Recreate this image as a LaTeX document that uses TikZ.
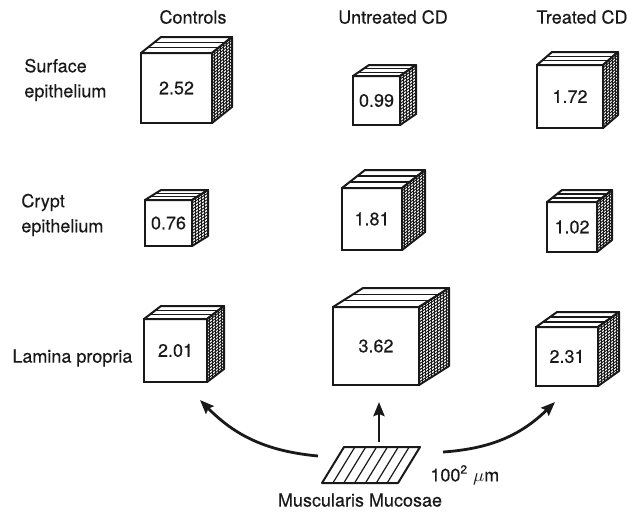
\documentclass[tikz,border=0pt]{standalone}
\usepackage{fontspec}
\setmainfont{TeX Gyre Heros}[FakeBold=0.35]
\usepackage{tikz}
\usetikzlibrary{
  arrows.meta,
  positioning
}
\definecolor{inkcolor}{RGB}{25, 25, 25}
\newcommand{\labelfont}{\fontsize{9}{12.5}\selectfont}
\tikzset{
frontface/.style={
  draw=inkcolor,
  line width=1pt,
  fill=white,
  inner sep=0pt,
  outer sep=0pt,
  font=\labelfont,
  text=inkcolor
},
faceline/.style={
  draw=inkcolor,
  line width=1pt,
  line join=round
},
stripeline/.style={
  draw=inkcolor,
  line width=0.6pt
},
gridline/.style={
  draw=inkcolor,
  line width=0.5pt
},
rowlabel/.style={
  font=\labelfont,
  text=inkcolor,
  align=left,
  anchor=west,
  inner sep=0pt
},
collabel/.style={
  font=\labelfont,
  text=inkcolor,
  inner sep=0pt
},
arrow/.style={
  -{Stealth[length=7pt,width=5.5pt,inset=1pt]},
  line width=1.4pt,
  draw=inkcolor
}
}

% cube: name, centre x, bottom y, width, height, depth x, depth y, value
\newcommand{\volcube}[8]{%
  \node[frontface, minimum width=#4*0.5pt, minimum height=#5*0.5pt, anchor=south] (#1) at (#2,#3) {#8};
  \pgfmathtruncatemacro{\lastcol}{round(#6/3)-1}
  \pgfmathtruncatemacro{\lastrow}{round(#5/3)-1}
  \pgfmathsetmacro{\colstep}{#6/(\lastcol+1)}
  \pgfmathsetmacro{\rowstep}{#5/(\lastrow+1)}
  % hatched side
  \foreach \k in {1,...,\lastcol}
    \draw[gridline] ([shift={(\k*\colstep,-\k*\colstep*#7/#6)}]#1.north east) -- ++(0,#5);
  \foreach \k in {1,...,\lastrow}
    \draw[gridline] ([shift={(0,\k*\rowstep)}]#1.north east) -- ++(#6,-#7);
  \draw[faceline] (#1.north east) -- ++(#6,-#7) -- ++(0,#5) -- (#1.south east) -- cycle;
  % striped top
  \draw[faceline] (#1.north west) -- ++(#6,-#7) -- ++(#4,0) -- (#1.north east) -- cycle;
  \foreach \f in {0.33,0.67}
    \draw[stripeline] ([shift={(\f*#6,-\f*#7)}]#1.north west) -- ++(#4,0);
}

\begin{document}
\begin{tikzpicture}[x=0.5pt, y=-0.5pt]
  \useasboundingbox (0,0) rectangle (635,511);

  % Column headings
  \node[collabel] (hctl) at (193,17) {Controls};
  \node[collabel] (hunt) at (393,17) {Untreated CD};
  \node[collabel] (htrt) at (582,17) {Treated CD};

  % Row labels
  \node[rowlabel] (rsurf) at (24,80) {Surface\\epithelium};
  \node[rowlabel] (rcrypt) at (21,215) {Crypt\\epithelium};
  \node[rowlabel] (rlam) at (12,358) {Lamina propria};

  % Row 1: surface epithelium
  \volcube{c252}{176.5}{123}{71}{70}{20}{16}{2.52}
  \volcube{c099}{376.5}{125}{47}{49}{16}{11}{0.99}
  \volcube{c172}{570}{128}{66}{63}{15}{13}{1.72}

  % Row 2: crypt epithelium
  \volcube{c076}{168.5}{246}{47}{46}{16}{10}{0.76}
  \volcube{c181}{372}{250}{60}{62}{23}{18}{1.81}
  \volcube{c102}{572}{252}{50}{50}{15}{12}{1.02}

  % Row 3: lamina propria
  \volcube{c201}{175.5}{382}{63}{63}{17}{13}{2.01}
  \volcube{c362}{376}{385}{86}{78}{30}{19}{3.62}
  \volcube{c231}{567}{386}{62}{59}{21}{15}{2.31}

  % Muscularis mucosae patch
  \node[minimum width=49pt, minimum height=18pt, inner sep=0pt, outer sep=0pt] (mm) at (371,465) {};
  \draw[faceline] (mm.south west) -- ++(76,0) -- (mm.north east) -- ++(-76,0) -- cycle;
  \foreach \k in {1,...,6}
    \draw[stripeline] ([shift={(\k*76/7,0)}]mm.south west) -- ++(22,-36);
  \node[collabel, below=5pt of mm.south, xshift=-5.5pt] (mmlabel) {Muscularis Mucosae};
  \node[collabel, anchor=west, right=5pt of mm.east, yshift=-5pt] (mmscale) {100\textsuperscript{2} $\mu$m};

  % Arrows from the patch to the lamina propria cubes
  \draw[arrow] ([xshift=4pt,yshift=2.5pt]mm.north) -- ([xshift=1.5pt,yshift=-8.5pt]c362.south);
  \draw[arrow] ([xshift=-2pt,yshift=4.5pt]mm.west) to[bend left=20] ([xshift=12.25pt,yshift=-9pt]c201.south);
  \draw[arrow] ([xshift=11.5pt,yshift=6.5pt]mm.east) to[bend right=20] ([xshift=-6pt,yshift=-8pt]c231.south);
\end{tikzpicture}
\end{document}
